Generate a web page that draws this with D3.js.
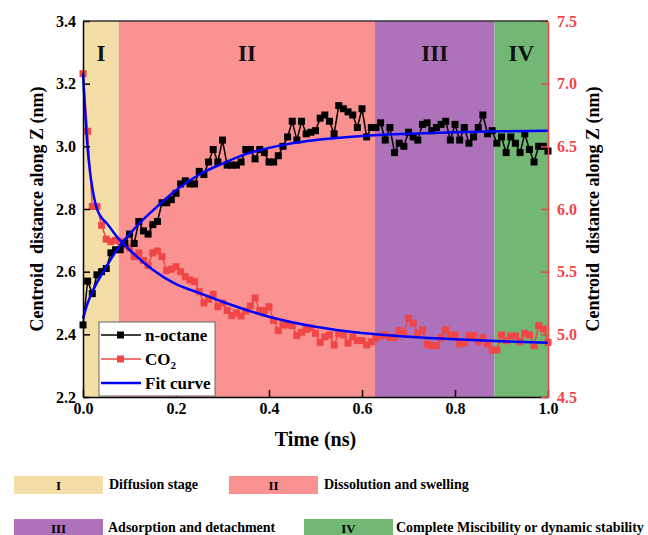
<!DOCTYPE html>
<html>
<head>
<meta charset="utf-8">
<script src="https://cdn.jsdelivr.net/npm/d3@7"></script>
<style>
  body { margin: 0; background: #fff; }
  text { font-family: "Times New Roman", "Liberation Serif", serif; font-weight: bold; }
</style>
</head>
<body>
<div id="chart"></div>
<script>
// time step of the simulation samples (ns)
var timeStep = 0.01;

// n-octane centroid distance (left axis, nm)
var octane = [2.43,2.57,2.53,2.59,2.60,2.61,2.66,2.67,2.67,2.69,
  2.72,2.69,2.76,2.73,2.72,2.75,2.76,2.82,2.82,2.83,
  2.85,2.88,2.89,2.88,2.88,2.92,2.91,2.95,2.99,2.95,
  3.02,2.94,2.94,2.94,2.95,2.99,2.99,2.96,2.99,2.98,
  2.95,2.95,2.97,3.00,3.03,3.08,3.02,3.08,3.04,3.045,
  3.05,3.09,3.10,3.08,3.04,3.13,3.12,3.11,3.10,3.06,
  3.12,3.03,3.06,3.06,3.075,3.02,3.06,2.98,3.01,3.00,
  3.045,3.03,3.02,3.07,3.075,3.05,3.06,3.07,3.08,3.02,
  3.07,3.02,3.06,3.01,3.03,3.06,3.10,3.04,3.05,3.01,
  3.03,2.98,3.03,3.01,2.98,3.04,2.99,2.95,3.00,3.00,
  2.985];

// CO2 centroid distance (right axis, nm)
var co2 = [7.08,6.62,6.02,6.02,5.87,5.76,5.74,5.75,5.74,5.71,
  5.69,5.62,5.65,5.59,5.55,5.65,5.665,5.62,5.51,5.52,
  5.54,5.50,5.46,5.433,5.42,5.34,5.25,5.28,5.32,5.22,
  5.25,5.19,5.15,5.17,5.146,5.186,5.226,5.29,5.19,5.19,
  5.22,5.11,5.03,5.075,5.075,5.07,4.99,5.016,5.04,5.05,
  5.008,4.936,4.98,4.995,4.915,5.008,4.995,4.93,4.98,4.95,
  4.95,4.915,4.94,4.97,4.987,4.995,4.976,4.976,5.03,5.008,
  5.128,5.09,5.005,5.035,4.92,4.91,4.91,4.973,5.035,4.995,
  4.995,4.923,4.933,4.99,4.99,4.941,4.973,4.923,4.875,4.875,
  4.995,4.949,4.987,4.987,4.941,5.008,4.995,4.91,5.07,5.043,
  4.936];

// fit curves
var fitOctaneT = [0,0.01,0.02,0.03,0.05,0.075,0.1,0.125,0.15,0.2,0.25,0.3,0.35,0.4,0.45,0.5,0.6,0.7,0.8,0.9,1.0];
var fitOctaneV = [2.45,2.50,2.535,2.565,2.615,2.675,2.72,2.76,2.795,2.86,2.91,2.945,2.975,2.995,3.01,3.02,3.033,3.04,3.045,3.048,3.05];
var fitCo2T = [0,0.005,0.01,0.015,0.02,0.03,0.04,0.05,0.075,0.1,0.15,0.2,0.25,0.3,0.4,0.5,0.6,0.7,0.8,0.9,1.0];
var fitCo2V = [7.08,6.75,6.48,6.30,6.17,6.00,5.93,5.89,5.77,5.675,5.515,5.40,5.33,5.26,5.14,5.06,5.01,4.98,4.96,4.945,4.933];

// stages
var stageBounds = [0, 0.077, 0.628, 0.885, 1.0];
var stageLabels = ["I", "II", "III", "IV"];
var stageNames = ["Diffusion stage", "Dissolution and swelling", "Adsorption and detachment", "Complete Miscibility or dynamic stability"];
var stageColors = ["#f5dda8", "#fb9292", "#ad72b9", "#72b874"];

// axis ticks
var xTicks = [0, 0.2, 0.4, 0.6, 0.8, 1.0];
var yLeftTicks = [2.2, 2.4, 2.6, 2.8, 3.0, 3.2, 3.4];
var yRightTicks = [4.5, 5.0, 5.5, 6.0, 6.5, 7.0, 7.5];

var red = "#f04646";

// plot area
var margin = {top: 21, left: 83},
    width = 465,
    height = 376;

var svg = d3.select("#chart").append("svg")
  .attr("width", 648)
  .attr("height", 535);

var x = d3.scaleLinear().domain([0, 1]).range([margin.left, margin.left + width]);
var yL = d3.scaleLinear().domain([2.2, 3.4]).range([margin.top + height, margin.top]);
var yR = d3.scaleLinear().domain([4.5, 7.5]).range([margin.top + height, margin.top]);

// stage backgrounds
var stages = stageLabels.map(function(l, i) {
  return {label: l, x0: stageBounds[i], x1: stageBounds[i + 1], color: stageColors[i], name: stageNames[i]};
});

svg.selectAll(".stage").data(stages).enter().append("rect")
  .attr("x", function(d) { return x(d.x0); })
  .attr("y", margin.top)
  .attr("width", function(d) { return x(d.x1) - x(d.x0); })
  .attr("height", height)
  .attr("fill", function(d) { return d.color; });

svg.selectAll(".stage-label").data(stages).enter().append("text")
  .attr("x", function(d) { return (x(d.x0) + x(d.x1)) / 2; })
  .attr("y", 61)
  .attr("text-anchor", "middle")
  .style("font-size", "23px")
  .attr("fill", "#111")
  .text(function(d) { return d.label; });

// series
var octPts = octane.map(function(v, i) { return [i * timeStep, v]; });
var co2Pts = co2.map(function(v, i) { return [i * timeStep, v]; });

var lineL = d3.line().x(function(d) { return x(d[0]); }).y(function(d) { return yL(d[1]); });
var lineR = d3.line().x(function(d) { return x(d[0]); }).y(function(d) { return yR(d[1]); });

svg.append("path").datum(co2Pts)
  .attr("d", lineR).attr("fill", "none").attr("stroke", red).attr("stroke-width", 1.5);
svg.selectAll(".co2").data(co2Pts).enter().append("rect")
  .attr("x", function(d) { return x(d[0]) - 3.5; })
  .attr("y", function(d) { return yR(d[1]) - 3.5; })
  .attr("width", 7).attr("height", 7)
  .attr("fill", red);

svg.append("path").datum(octPts)
  .attr("d", lineL).attr("fill", "none").attr("stroke", "#000").attr("stroke-width", 1.5);
svg.selectAll(".oct").data(octPts).enter().append("rect")
  .attr("x", function(d) { return x(d[0]) - 3.5; })
  .attr("y", function(d) { return yL(d[1]) - 3.5; })
  .attr("width", 7).attr("height", 7)
  .attr("fill", "#000");

// fit curves
var fitL = d3.line().curve(d3.curveMonotoneX)
  .x(function(d) { return x(d[0]); }).y(function(d) { return yL(d[1]); });
var fitR = d3.line().curve(d3.curveMonotoneX)
  .x(function(d) { return x(d[0]); }).y(function(d) { return yR(d[1]); });

svg.append("path").datum(fitOctaneT.map(function(t, i) { return [t, fitOctaneV[i]]; }))
  .attr("d", fitL).attr("fill", "none").attr("stroke", "#0000ff").attr("stroke-width", 2.5);
svg.append("path").datum(fitCo2T.map(function(t, i) { return [t, fitCo2V[i]]; }))
  .attr("d", fitR).attr("fill", "none").attr("stroke", "#0000ff").attr("stroke-width", 2.5);

// axes
var xAxis = svg.append("g")
  .attr("transform", "translate(0," + (margin.top + height) + ")")
  .call(d3.axisBottom(x).tickValues(xTicks).tickFormat(d3.format(".1f"))
    .tickSizeInner(-7).tickSizeOuter(0).tickPadding(6));

var yAxisL = svg.append("g")
  .attr("transform", "translate(" + margin.left + ",0)")
  .call(d3.axisLeft(yL).tickValues(yLeftTicks).tickFormat(d3.format(".1f"))
    .tickSizeInner(-7).tickSizeOuter(0).tickPadding(7));

var yAxisR = svg.append("g")
  .attr("transform", "translate(" + (margin.left + width) + ",0)")
  .call(d3.axisRight(yR).tickValues(yRightTicks).tickFormat(d3.format(".1f"))
    .tickSizeInner(-7).tickSizeOuter(0).tickPadding(9));

[xAxis, yAxisL].forEach(function(g) {
  g.selectAll("path, line").attr("stroke", "#000").attr("stroke-width", 1.5);
  g.selectAll("text").attr("fill", "#000").style("font-size", "16px");
});
yAxisR.selectAll("path, line").attr("stroke", red).attr("stroke-width", 1.5);
yAxisR.selectAll("text").attr("fill", red).style("font-size", "16px");

// top border
svg.append("line")
  .attr("x1", margin.left).attr("x2", margin.left + width)
  .attr("y1", margin.top).attr("y2", margin.top)
  .attr("stroke", "#333").attr("stroke-width", 1.5);

// axis titles
svg.append("text")
  .attr("transform", "translate(" + (margin.left + width / 2) + ",446)")
  .attr("text-anchor", "middle")
  .style("font-size", "20px")
  .text("Time (ns)");

[37, 593].forEach(function(cx) {
  svg.append("text")
    .attr("transform", "translate(" + cx + "," + (margin.top + height / 2) + ") rotate(-90)")
    .attr("text-anchor", "middle")
    .attr("dy", "0.35em")
    .style("font-size", "18px")
    .style("white-space", "pre")
    .text("Centroid  distance along Z (nm)");
});

// legend
var legendItems = [
  {name: "n-octane", color: "#000", marker: true},
  {name: "CO", sub: "2", color: red, marker: true},
  {name: "Fit curve", color: "#0000ff", marker: false}
];

var legend = svg.append("g").attr("transform", "translate(99,322)");
legend.append("rect")
  .attr("width", 116).attr("height", 74)
  .attr("fill", "#fff").attr("stroke", "#666").attr("stroke-width", 1);

var li = legend.selectAll(".li").data(legendItems).enter().append("g")
  .attr("transform", function(d, i) { return "translate(0," + (13 + i * 24) + ")"; });
li.append("line")
  .attr("x1", 2).attr("x2", 42)
  .attr("stroke", function(d) { return d.color; })
  .attr("stroke-width", function(d) { return d.marker ? 1.5 : 2.5; });
li.filter(function(d) { return d.marker; }).append("rect")
  .attr("x", 18).attr("y", -3.5).attr("width", 7).attr("height", 7)
  .attr("fill", function(d) { return d.color; });
var lt = li.append("text")
  .attr("x", 46).attr("dy", "0.35em")
  .style("font-size", "17px")
  .text(function(d) { return d.name; });
lt.filter(function(d) { return d.sub; }).append("tspan")
  .attr("dy", 4).style("font-size", "11px")
  .text(function(d) { return d.sub; });

// stage legend under the chart
var stageLegendPos = [
  {bx: 14, by: 476, tx: 109},
  {bx: 229, by: 476, tx: 324},
  {bx: 14, by: 519, tx: 108},
  {bx: 304, by: 519, tx: 396}
];
var sl = svg.selectAll(".sl").data(stages).enter().append("g")
  .attr("transform", function(d, i) { return "translate(0," + stageLegendPos[i].by + ")"; });
sl.append("rect")
  .attr("x", function(d, i) { return stageLegendPos[i].bx; })
  .attr("width", 89).attr("height", 18)
  .attr("fill", function(d) { return d.color; });
sl.append("text")
  .attr("x", function(d, i) { return stageLegendPos[i].bx + 44.5; })
  .attr("y", 14)
  .attr("text-anchor", "middle")
  .style("font-size", "13px")
  .text(function(d) { return d.label; });
sl.append("text")
  .attr("x", function(d, i) { return stageLegendPos[i].tx; })
  .attr("y", 13)
  .style("font-size", "14px")
  .text(function(d) { return d.name; });
</script>
</body>
</html>
